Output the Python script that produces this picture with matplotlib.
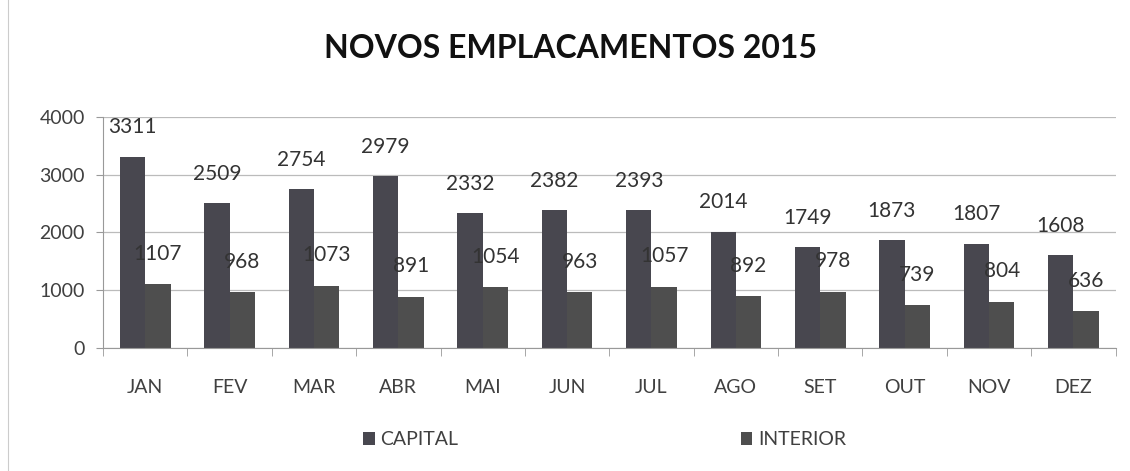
import matplotlib
matplotlib.use("Agg")
import matplotlib.pyplot as plt
import numpy as np

months = ["JAN", "FEV", "MAR", "ABR", "MAI", "JUN", "JUL", "AGO", "SET", "OUT", "NOV", "DEZ"]
capital = [3311, 2509, 2754, 2979, 2332, 2382, 2393, 2014, 1749, 1873, 1807, 1608]
interior = [1107, 968, 1073, 891, 1054, 963, 1057, 892, 978, 739, 804, 636]
yticks = [0, 1000, 2000, 3000, 4000]

plt.rcParams['font.family'] = ['Lato', 'DejaVu Sans']

fig = plt.figure(figsize=(11.3, 4.71), dpi=100)
ax = fig.add_axes([0.0912, 0.261, 0.896, 0.491])

x = np.arange(len(months))
w = 0.3
cap_color = '#48474f'
int_color = '#4e4e4e'
b1 = ax.bar(x - w/2, capital, w, color=cap_color, label='CAPITAL')
b2 = ax.bar(x + w/2, interior, w, color=int_color, label='INTERIOR')

for xi, v in zip(x, capital):
    ax.annotate(str(v), (xi - w/2, v), xytext=(0, 21), textcoords='offset points',
                ha='center', va='center', fontsize=15, color='#333333')
for xi, v in zip(x, interior):
    ax.annotate(str(v), (xi + w/2, v), xytext=(0, 22), textcoords='offset points',
                ha='center', va='center', fontsize=15, color='#333333')

ax.set_xlim(-0.5, len(months) - 0.5)
ax.set_ylim(0, 4000)
ax.set_yticks(yticks)
ax.set_yticklabels([str(t) for t in yticks], fontsize=14, color='#404040')
ax.set_xticks(x)
ax.set_xticklabels(months, fontsize=14, color='#404040')
ax.set_xticks(np.arange(-0.5, len(months)), minor=True)
ax.tick_params(axis='x', which='major', length=0, pad=22)
ax.tick_params(axis='x', which='minor', length=6, color='#999999', direction='out')
ax.tick_params(axis='y', length=5, color='#999999', pad=8)
ax.yaxis.grid(True, color='#bbbbbb', linewidth=0.9)
ax.set_axisbelow(True)
for s in ['top', 'right']:
    ax.spines[s].set_visible(False)
ax.spines['left'].set_color('#999999')
ax.spines['bottom'].set_color('#999999')

fig.text(0.505, 0.898, 'NOVOS EMPLACAMENTOS 2015', ha='center', va='center',
         fontsize=23, fontweight='bold', color='#111111')

fig.legend(handles=[b1, b2], loc='center', bbox_to_anchor=(0.535, 0.066), ncol=2,
           frameon=False, fontsize=14, handlelength=0.6, handleheight=0.6,
           handletextpad=0.3, columnspacing=14.5, labelcolor='#404040')

fig.add_artist(plt.Line2D([0.007, 0.007], [0.0, 1.0], color='#cccccc', linewidth=0.8))

fig.savefig('out.png', dpi=100, facecolor='white')
